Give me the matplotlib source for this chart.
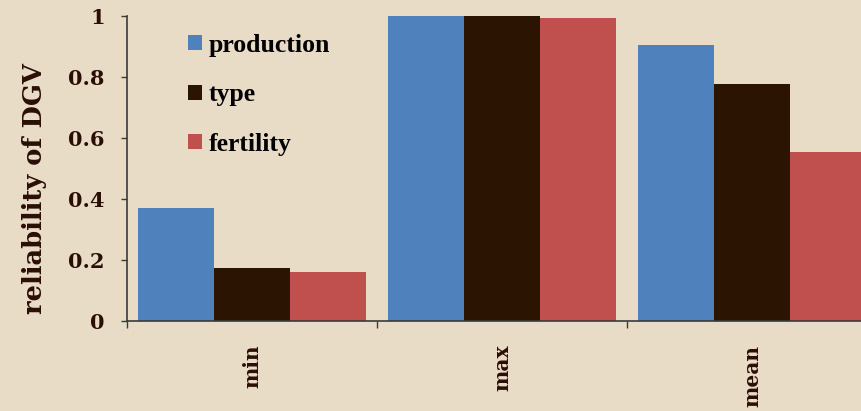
import numpy as np
import matplotlib.pyplot as plt

categories = ['min', 'max', 'mean']
series = ['production', 'type', 'fertility']
production = [0.37, 1.0, 0.905]
type_ = [0.174, 1.0, 0.777]
fertility = [0.16, 0.993, 0.555]
colors = ['#4F81BD', '#2B1502', '#C0504D']
text_color = '#2a0d05'
bg = '#e9dcc6'


def main():
    fig = plt.figure(figsize=(8.62, 4.11), dpi=100, facecolor=bg)
    ax = fig.add_axes([127 / 862, 90 / 411, 750 / 862, 305 / 411])
    ax.set_facecolor('none')

    x = np.arange(len(categories))
    width = 0.303
    for i, (name, vals) in enumerate(zip(series, [production, type_, fertility])):
        ax.bar(x + (i - 1) * width, vals, width, color=colors[i], label=name)

    ax.set_xlim(-0.5, 2.5)
    ax.set_ylim(0, 1)
    for s in ['top', 'right']:
        ax.spines[s].set_visible(False)
    for s in ['left', 'bottom']:
        ax.spines[s].set_color('#3a3a3a')
        ax.spines[s].set_linewidth(1.2)

    ax.set_yticks([0, 0.2, 0.4, 0.6, 0.8, 1.0])
    ax.set_yticklabels(['0', '0.2', '0.4', '0.6', '0.8', '1'])
    ax.tick_params(axis='y', length=4, width=1, color='#3a3a3a', pad=12,
                   labelsize=15, labelcolor=text_color)
    for tl in ax.get_yticklabels():
        tl.set_fontfamily('DejaVu Serif')
        tl.set_fontweight('bold')

    ax.set_xticks([-0.5, 0.5, 1.5, 2.5])
    ax.set_xticklabels([])
    ax.tick_params(axis='x', which='major', length=5, width=1, color='#3a3a3a')
    ax.set_xticks(x, minor=True)
    ax.set_xticklabels(categories, minor=True, rotation=90, fontsize=14.5,
                       fontfamily='DejaVu Serif', fontweight='bold', color=text_color)
    ax.tick_params(axis='x', which='minor', length=0, pad=17)

    ax.set_ylabel('reliability of DGV', fontsize=18.5, fontfamily='DejaVu Serif',
                  fontweight='heavy', color=text_color)
    ax.yaxis.set_label_coords(-0.107, 0.433)

    leg = ax.legend(loc='upper left', bbox_to_anchor=(0.051, 1.018), frameon=False,
                    prop={'family': 'Liberation Serif', 'weight': 'bold', 'size': 18.5},
                    handlelength=0.52, handleheight=0.52, handletextpad=0.28,
                    labelspacing=1.04)
    for t in leg.get_texts():
        t.set_color('black')

    fig.savefig('out.png', dpi=100, facecolor=bg)


if __name__ == '__main__':
    main()
